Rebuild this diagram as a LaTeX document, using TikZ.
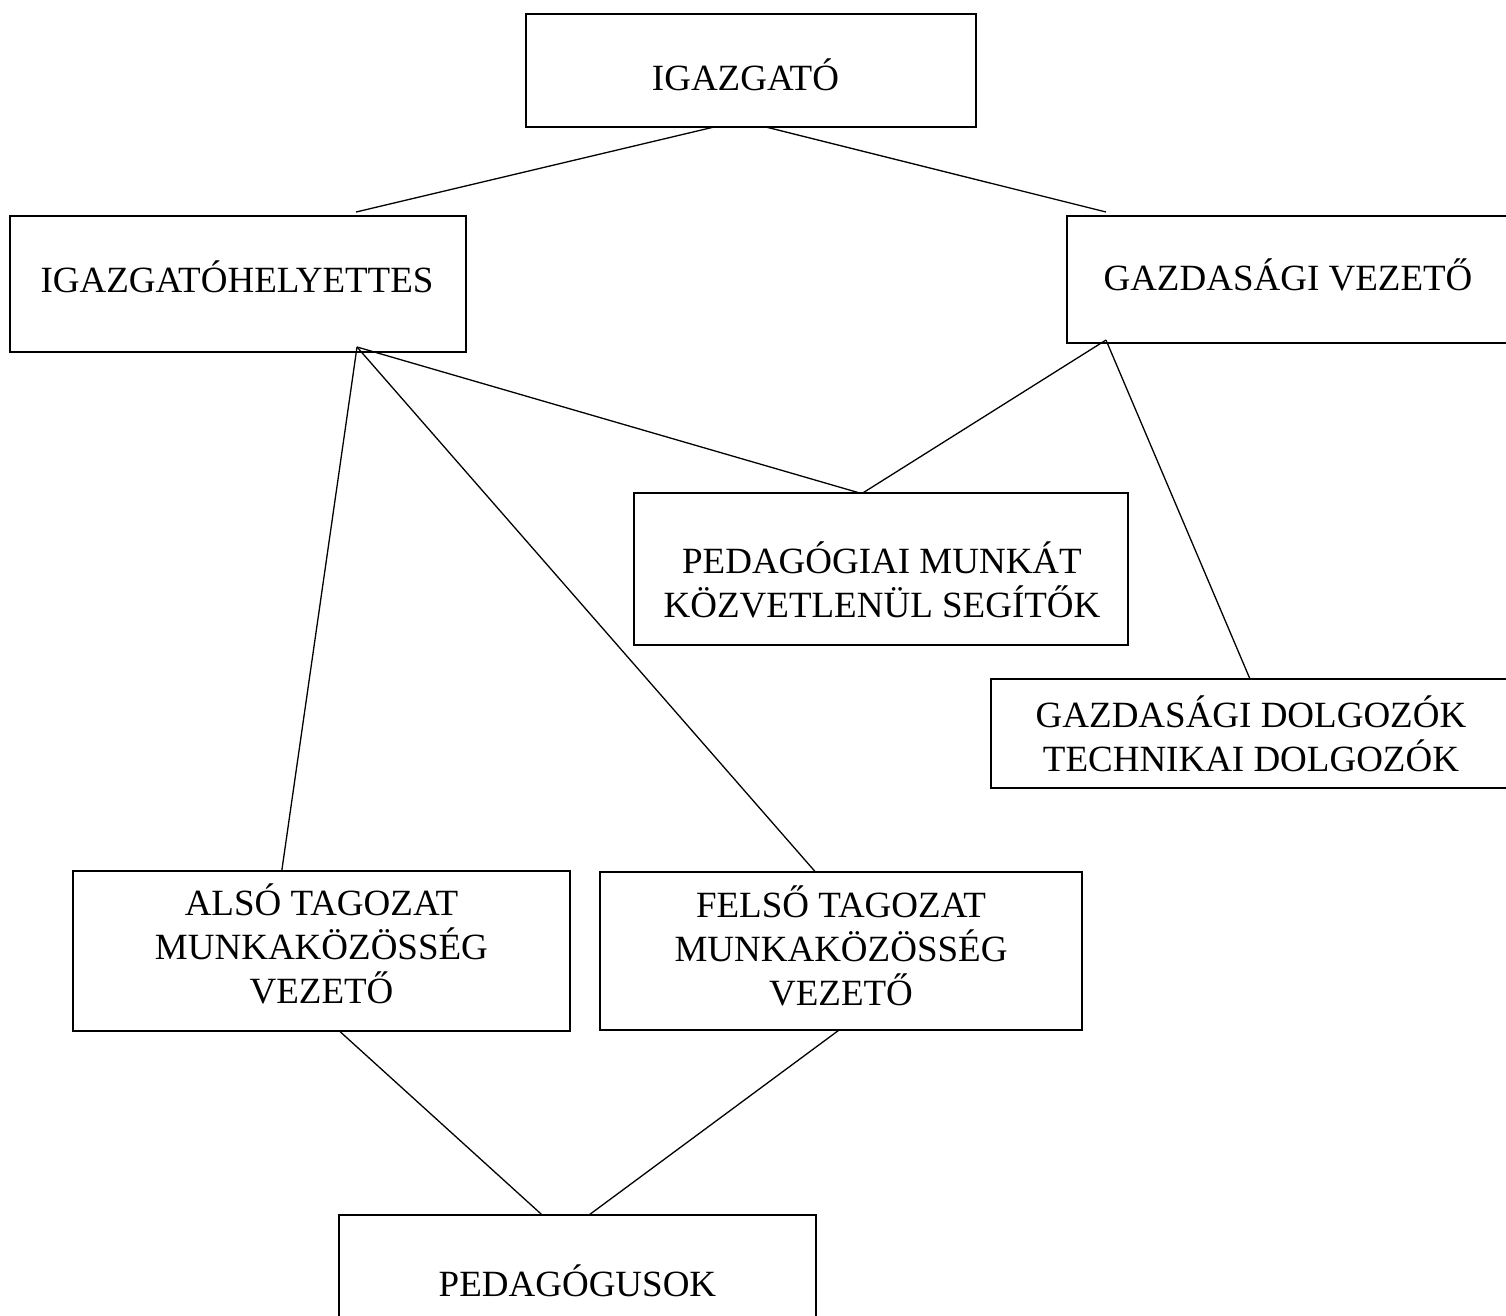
\documentclass[tikz,border=0pt]{standalone}
\usepackage{fontspec}
\setmainfont{Liberation Serif}
\usetikzlibrary{calc}
\newcommand\stackedlines[1]{\vtop{\halign{\hfil##\hfil\cr#1\crcr}}}
\tikzset{
  orgbox/.style={draw=black, line width=1.4pt, inner sep=0pt, outer sep=0pt},
  lbl/.style={inner sep=0pt, outer sep=0pt, anchor=base, font=\fontsize{37}{44}\selectfont},
  link/.style={line width=1.3pt, draw=black}
}
\begin{document}
\begin{tikzpicture}[x=1pt,y=-1pt]
\useasboundingbox (0,0) rectangle (1506,1315);
\clip (0,0) rectangle (1506,1315);
\fill[white] (0,0) rectangle (1506,1315);

% boxes
\node[orgbox, minimum width=450pt, minimum height=113pt] (igaz)  at (751,70.5) {};
\node[orgbox, minimum width=456pt, minimum height=136pt] (hely)  at (238,284) {};
\node[orgbox, minimum width=443pt, minimum height=127pt] (gvez)  at (1288.5,279.5) {};
\node[orgbox, minimum width=494pt, minimum height=152pt] (ped)   at (881,569) {};
\node[orgbox, minimum width=519pt, minimum height=109pt] (gdolg) at (1250.5,733.5) {};
\node[orgbox, minimum width=497pt, minimum height=160pt] (also)  at (321.5,951) {};
\node[orgbox, minimum width=482pt, minimum height=158pt] (felso) at (841,951) {};
\node[orgbox, minimum width=477pt, minimum height=130pt] (pedag) at (577.5,1280) {};

% labels
\node[lbl] (tigaz)  at (745.5,90)  {IGAZGATÓ};
\node[lbl] (thely)  at (237,292)   {IGAZGATÓHELYETTES};
\node[lbl] (tgvez)  at (1288,290)  {GAZDASÁGI VEZETŐ};
\node[lbl] (tped)   at (882,573)   {\stackedlines{PEDAGÓGIAI MUNKÁT\cr KÖZVETLENÜL SEGÍTŐK}};
\node[lbl] (tgdolg) at (1251,727)  {\stackedlines{GAZDASÁGI DOLGOZÓK\cr TECHNIKAI DOLGOZÓK}};
\node[lbl] (talso)  at (321.5,915) {\stackedlines{ALSÓ TAGOZAT\cr MUNKAKÖZÖSSÉG\cr VEZETŐ}};
\node[lbl] (tfelso) at (841,917)   {\stackedlines{FELSŐ TAGOZAT\cr MUNKAKÖZÖSSÉG\cr VEZETŐ}};
\node[lbl] (tpedag) at (577.5,1296){PEDAGÓGUSOK};

% junction points
\coordinate (hapex) at ($(hely.south west)!0.761!(hely.south east)+(0,-5)$);
\coordinate (gapex) at ($(gvez.south west)!0.088!(gvez.south east)+(0,-3)$);

% connectors
\draw[link] ($(igaz.south west)!0.418!(igaz.south east)$) -- ($(hely.north west)!0.759!(hely.north east)+(0,-4)$);
\draw[link] ($(igaz.south west)!0.533!(igaz.south east)$) -- ($(gvez.north west)!0.088!(gvez.north east)+(0,-4)$);
\draw[link] (hapex) -- ($(also.north west)!0.42!(also.north east)$);
\draw[link] (hapex) -- ($(felso.north west)!0.447!(felso.north east)$);
\draw[link] (hapex) -- ($(ped.north west)!0.457!(ped.north east)$);
\draw[link] (gapex) -- ($(ped.north west)!0.463!(ped.north east)$);
\draw[link] (gapex) -- ($(gdolg.north west)!0.499!(gdolg.north east)$);
\draw[link] ($(also.south west)!0.536!(also.south east)$) -- ($(pedag.north west)!0.426!(pedag.north east)$);
\draw[link] ($(felso.south west)!0.496!(felso.south east)$) -- ($(pedag.north west)!0.524!(pedag.north east)$);
\end{tikzpicture}
\end{document}
